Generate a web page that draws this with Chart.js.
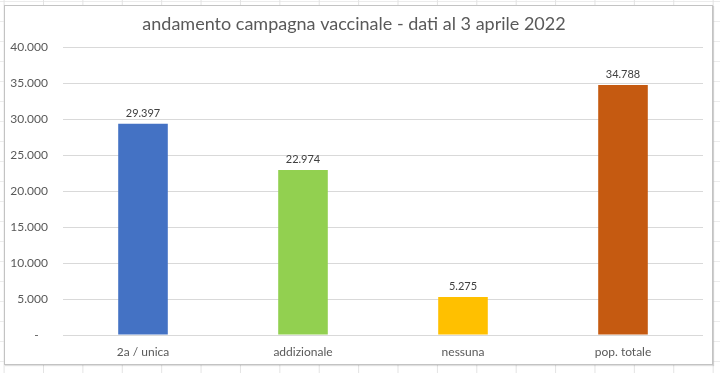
<!DOCTYPE html>
<html lang="it">
<head>
<meta charset="utf-8">
<script src="https://cdn.jsdelivr.net/npm/chart.js@4"></script>
<style>
  html, body {
    margin: 0;
    padding: 0;
    width: 720px;
    height: 373px;
    overflow: hidden;
    background-color: #ffffff;
    background-image:
      linear-gradient(to right, #e3e3e3 1px, transparent 1px),
      linear-gradient(to bottom, #ececec 1px, transparent 1px);
    background-size: 39.4px 20px;
    background-position: 43px 0, 0 1px;
  }
  #box {
    position: absolute;
    left: 4px;
    top: 5px;
    width: 709px;
    height: 360px;
    box-sizing: border-box;
    border: 1px solid #c3c3c3;
    box-shadow: 1px 1px 1px rgba(0, 0, 0, 0.12);
    background: #ffffff;
  }
  #chart {
    display: block;
  }
</style>
</head>
<body>
<div id="box"><canvas id="chart" width="707" height="358"></canvas></div>
<script>
// andamento campagna vaccinale - dati al 3 aprile 2022
const categories = ["2a / unica", "addizionale", "nessuna", "pop. totale"];
const values = [29397, 22974, 5275, 34788];
const barColors = ["#4472C4", "#92D050", "#FFC000", "#C55A11"];
const yTicks = [0, 5000, 10000, 15000, 20000, 25000, 30000, 35000, 40000];

const FONT = "Lato, 'Open Sans', sans-serif";
const TEXT = "#595959";

// numbers like Excel with Italian separators: 29.397
function formatIt(v) {
  return String(Math.round(v)).replace(/\B(?=(\d{3})+(?!\d))/g, ".");
}

// draws the value above each bar
const valueLabels = {
  id: "valueLabels",
  afterDatasetsDraw(chart) {
    const ctx = chart.ctx;
    const meta = chart.getDatasetMeta(0);
    ctx.save();
    ctx.font = "11px " + FONT;
    ctx.fillStyle = "#404040";
    ctx.textAlign = "center";
    ctx.textBaseline = "bottom";
    meta.data.forEach(function (bar, i) {
      ctx.fillText(formatIt(values[i]), bar.x, bar.y - 5);
    });
    ctx.restore();
  },
};

const ctx = document.getElementById("chart").getContext("2d");

new Chart(ctx, {
  type: "bar",
  data: {
    labels: categories,
    datasets: [
      {
        label: "persone",
        data: values,
        backgroundColor: barColors,
        borderWidth: 0,
        categoryPercentage: 1,
        barPercentage: 0.31,
      },
    ],
  },
  options: {
    responsive: false,
    animation: false,
    layout: {
      padding: { left: 0, right: 9, top: 0, bottom: 0 },
    },
    plugins: {
      legend: { display: false },
      tooltip: { enabled: false },
      title: {
        display: true,
        text: "andamento campagna vaccinale - dati al 3 aprile 2022",
        color: TEXT,
        font: { family: FONT, size: 18, weight: "normal" },
        padding: { top: 7, bottom: 13 },
      },
    },
    scales: {
      x: {
        grid: { display: false, drawTicks: false },
        border: { display: false },
        ticks: {
          color: TEXT,
          padding: 10,
          font: { family: FONT, size: 12 },
        },
        afterFit(scale) {
          scale.height = 29;
        },
      },
      y: {
        min: 0,
        max: 40000,
        afterBuildTicks(scale) {
          scale.ticks = yTicks.map(function (v) {
            return { value: v };
          });
        },
        grid: { color: "#d9d9d9", lineWidth: 1, drawTicks: false },
        border: { display: false },
        ticks: {
          color: TEXT,
          padding: 15,
          font: { family: FONT, size: 12 },
          callback: function (value) {
            return value === 0 ? "-   " : formatIt(value);
          },
        },
        afterFit(scale) {
          scale.width = 58;
        },
      },
    },
  },
  plugins: [valueLabels],
});
</script>
</body>
</html>
